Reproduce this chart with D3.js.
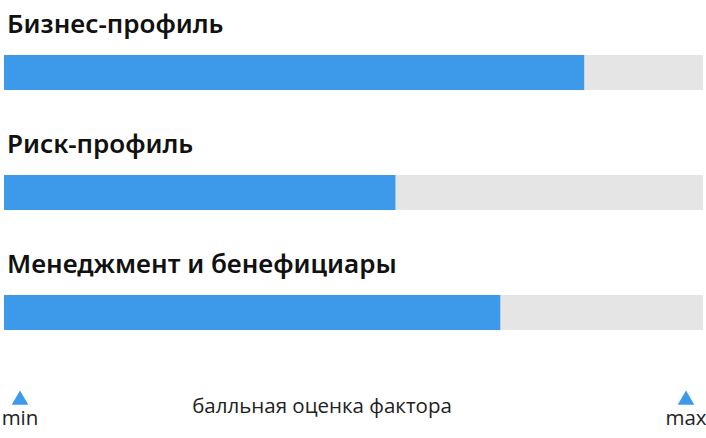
<!DOCTYPE html>
<html>
<head>
<meta charset="utf-8">
<script src="https://cdn.jsdelivr.net/npm/d3@7"></script>
<style>
	body { margin: 0; background: #fff; }
	svg { display: block; }
	.title { font-family: "Noto Sans", sans-serif; font-weight: 600; font-size: 26px; fill: #111; }
	.note { font-family: "Open Sans", sans-serif; font-size: 20.5px; fill: #222; }
</style>
</head>
<body>
<script>
(function () {
	//data
	var factors = ["Бизнес-профиль", "Риск-профиль", "Менеджмент и бенефициары"];
	var scores = [83, 56, 71]; //out of 100
	var scoreRange = [0, 100];
	var scaleLabels = ["min", "max"];
	var axisCaption = "балльная оценка фактора";

	var width = 706,
		height = 438;

	var svg = d3.select("body")
		.append("svg")
		.attr("width", width)
		.attr("height", height);

	//horizontal score scale spans the full track
	var x = d3.scaleLinear()
		.domain(scoreRange)
		.range([4, 703]);

	//each factor gets a 120px row
	var row = d3.scaleBand()
		.domain(factors)
		.range([0, 360]);

	var barH = 35;

	var groups = svg.selectAll(".factor")
		.data(factors)
		.enter()
		.append("g")
		.attr("class", "factor")
		.attr("transform", function (d) { return "translate(0," + row(d) + ")"; });

	groups.append("text")
		.attr("class", "title")
		.attr("x", 7)
		.attr("y", 33)
		.text(function (d) { return d; });

	//grey track
	groups.append("rect")
		.attr("x", x(scoreRange[0]))
		.attr("y", 55)
		.attr("width", x(scoreRange[1]) - x(scoreRange[0]))
		.attr("height", barH)
		.attr("fill", "#e5e5e5");

	//blue score
	groups.append("rect")
		.attr("x", x(scoreRange[0]))
		.attr("y", 55)
		.attr("width", function (d, i) { return x(scores[i]) - x(scoreRange[0]); })
		.attr("height", barH)
		.attr("fill", "#3d99e9");

	//min / max markers
	var markerX = [20, 686];
	var tri = d3.symbol().type(d3.symbolTriangle).size(120);
	scaleLabels.forEach(function (lab, i) {
		svg.append("path")
			.attr("d", tri)
			.attr("transform", "translate(" + markerX[i] + ",400)")
			.attr("fill", "#3d99e9");
		svg.append("text")
			.attr("class", "note")
			.attr("x", markerX[i])
			.attr("y", 425)
			.attr("text-anchor", "middle")
			.text(lab);
	});

	svg.append("text")
		.attr("class", "note")
		.attr("x", 322)
		.attr("y", 413)
		.attr("text-anchor", "middle")
		.text(axisCaption);
})();
</script>
</body>
</html>
